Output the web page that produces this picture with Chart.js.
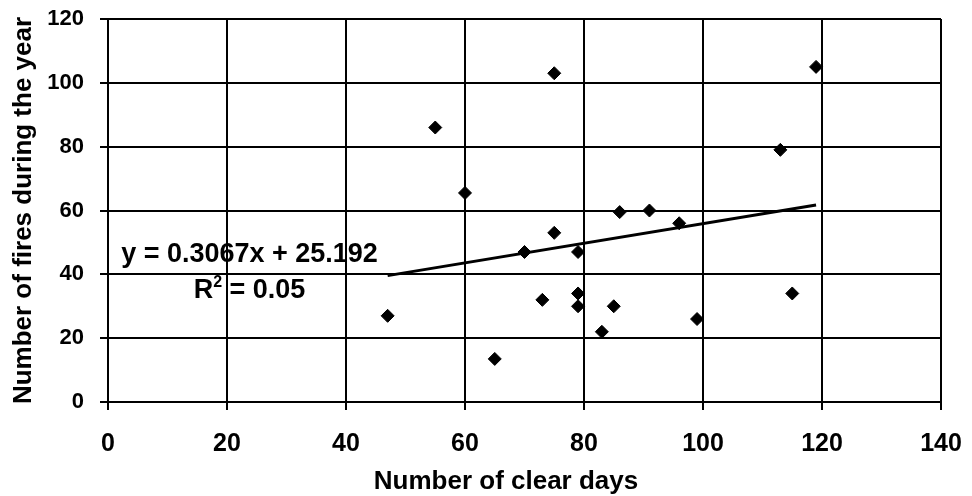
<!DOCTYPE html>
<html>
<head>
<meta charset="utf-8">
<title>Fires vs clear days</title>
<script src="https://cdn.jsdelivr.net/npm/chart.js@4/dist/chart.umd.min.js"></script>
<style>
  body { margin: 0; background: #fff; }
  canvas { display: block; }
</style>
</head>
<body>
<canvas id="myChart" width="972" height="496"></canvas>
<script>
// values
const clearDays = [47, 55, 60, 65, 70, 73, 75, 75, 79, 79, 79, 83, 85, 86, 91, 96, 99, 113, 115, 119];
const fires = [27, 86, 65.5, 13.5, 47, 32, 103, 53, 47, 34, 30, 22, 30, 59.5, 60, 56, 26, 79, 34, 105];

// trendline end points (as drawn)
const trendX = [47, 119];
const trendY = [39.6, 61.7];

const xTicks = [0, 20, 40, 60, 80, 100, 120, 140];
const yTicks = [0, 20, 40, 60, 80, 100, 120];

const equationText = 'y = 0.3067x + 25.192';
const rSquaredText = ' = 0.05';
const xTitle = 'Number of clear days';
const yTitle = 'Number of fires during the year';

const FONT = '"Liberation Sans", Arial, sans-serif';

const points = clearDays.map((x, i) => ({ x: x, y: fires[i] }));
const trend = trendX.map((x, i) => ({ x: x, y: trendY[i] }));

// the tick padding would otherwise push the plot area in
const noScalePadding = (scale) => {
  scale.paddingTop = 0;
  scale.paddingBottom = 0;
  scale.paddingLeft = 0;
  scale.paddingRight = 0;
};

// equation box and x title, drawn like the Excel labels
const labelsPlugin = {
  id: 'labels',
  afterDraw(chart) {
    const ctx = chart.ctx;
    const cx = 249.5;
    ctx.save();
    ctx.fillStyle = '#000';
    ctx.textBaseline = 'alphabetic';

    ctx.font = 'bold 27px ' + FONT;
    ctx.textAlign = 'center';
    ctx.fillText(equationText, cx, 262);

    // R² line with a raised 2
    ctx.textAlign = 'left';
    ctx.font = 'bold 27px ' + FONT;
    const wR = ctx.measureText('R').width;
    const wRest = ctx.measureText(rSquaredText).width;
    ctx.font = 'bold 16px ' + FONT;
    const w2 = ctx.measureText('2').width;
    let x0 = cx - (wR + w2 + wRest) / 2;
    ctx.font = 'bold 27px ' + FONT;
    ctx.fillText('R', x0, 297.5);
    ctx.font = 'bold 16px ' + FONT;
    ctx.fillText('2', x0 + wR, 286.5);
    ctx.font = 'bold 27px ' + FONT;
    ctx.fillText(rSquaredText, x0 + wR + w2, 297.5);

    // x axis title
    ctx.font = 'bold 26px ' + FONT;
    ctx.textAlign = 'center';
    ctx.fillText(xTitle, 506, 489);
    ctx.restore();
  }
};

new Chart(document.getElementById('myChart'), {
  type: 'scatter',
  data: {
    datasets: [
      {
        data: points,
        pointStyle: 'rectRot',
        pointRadius: 6.5,
        backgroundColor: '#000',
        borderColor: '#000',
        borderWidth: 1,
        order: 2
      },
      {
        type: 'line',
        data: trend,
        showLine: true,
        borderColor: '#000',
        borderWidth: 3,
        pointRadius: 0,
        fill: false,
        order: 1
      }
    ]
  },
  options: {
    responsive: false,
    animation: false,
    devicePixelRatio: 1,
    layout: { padding: { top: 19, right: 31, left: 0, bottom: 0 } },
    plugins: {
      legend: { display: false },
      tooltip: { enabled: false }
    },
    scales: {
      x: {
        type: 'linear',
        min: 0,
        max: 140,
        afterBuildTicks: (scale) => { scale.ticks = xTicks.map(v => ({ value: v })); },
        afterFit: (scale) => { scale.height = 94; noScalePadding(scale); },
        grid: { color: '#000', lineWidth: 2, tickLength: 8 },
        border: { color: '#000', width: 2 },
        ticks: {
          color: '#000',
          padding: 19,
          maxRotation: 0,
          autoSkip: false,
          font: { family: FONT, size: 25, weight: 'bold' }
        }
      },
      y: {
        type: 'linear',
        min: 0,
        max: 120,
        afterBuildTicks: (scale) => { scale.ticks = yTicks.map(v => ({ value: v })); },
        afterFit: (scale) => { scale.width = 108; noScalePadding(scale); },
        grid: { color: '#000', lineWidth: 2, tickLength: 8 },
        border: { color: '#000', width: 2 },
        ticks: {
          color: '#000',
          padding: 16,
          autoSkip: false,
          font: { family: FONT, size: 22, weight: 'bold' }
        },
        title: {
          display: true,
          text: yTitle,
          color: '#000',
          padding: { top: 8, bottom: 0 },
          font: { family: FONT, size: 26, weight: 'bold' }
        }
      }
    }
  },
  plugins: [labelsPlugin]
});
</script>
</body>
</html>
